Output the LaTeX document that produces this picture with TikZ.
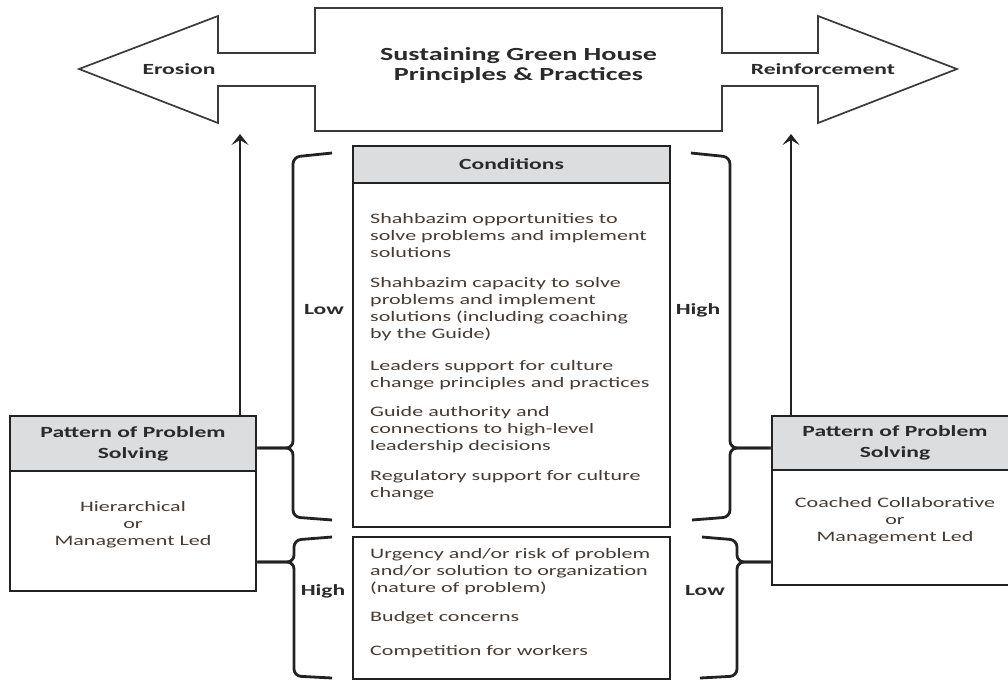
\documentclass[tikz,border=0pt]{standalone}
\usepackage{fontspec}
\setmainfont{Carlito}[FakeStretch=1.52]
\usetikzlibrary{arrows.meta,calc}
\definecolor{linec}{HTML}{222222}
\definecolor{shapec}{HTML}{3A3A3A}
\definecolor{bodyc}{HTML}{443C36}
\definecolor{headc}{HTML}{2A2A2A}
\definecolor{hdrfill}{HTML}{DCDDDF}
\begin{document}
\begin{tikzpicture}[x=1pt,y=-1pt,
  box/.style={draw=linec,line width=2.8pt,fill=white,inner sep=0pt},
  hdr/.style={draw=linec,line width=2.8pt,fill=hdrfill,inner sep=0pt,
    font=\fontsize{15.5}{21}\selectfont\bfseries,text=headc,align=center},
  bigarrow/.style={draw=shapec,line width=1.7pt,fill=white,line join=miter},
  boldt/.style={font=\fontsize{15.5}{20}\selectfont\bfseries,text=headc,inner sep=0pt},
  titlet/.style={font=\fontsize{18.5}{20}\selectfont\bfseries,text=headc,inner sep=0pt,align=center},
  bodyt/.style={font=\fontsize{14.5}{17}\selectfont,text=bodyc,inner sep=0pt},
  brc/.style={draw=linec,line width=2.8pt,rounded corners=7pt},
  upar/.style={draw=linec,line width=2.8pt,-{Stealth[length=11pt,width=17pt,inset=5pt]}}
]
\useasboundingbox (0,0) rectangle (1008,681);

% top double arrow
\draw[bigarrow] (79,69) -- (218,16) -- (218,53) -- (315,53) -- (315,8) -- (722,8)
  -- (722,53) -- (818,53) -- (818,16) -- (957,69) -- (818,123) -- (818,86)
  -- (722,86) -- (722,131) -- (315,131) -- (315,86) -- (218,86) -- (218,123) -- cycle;
\node[titlet] (title) at (518.5,65) {Sustaining Green House\\Principles \& Practices};
\node[boldt] (eros) at (179,69) {Erosion};
\node[boldt] (reinf) at (823,69) {Reinforcement};

% conditions box
\node[box,minimum width=317,minimum height=381] (cond) at (511.5,336.5) {};
\node[hdr,minimum width=317,minimum height=37,anchor=north] (condh) at (cond.north) {Conditions};
% (base anchor = baseline of the last line)
\node[bodyt,anchor=base west,align=left] (c1) at (370,257) {Shahbazim opportunities to\\solve problems and implement\\solutions};
\node[bodyt,anchor=base west,align=left] (c2) at (370,338) {Shahbazim capacity to solve\\problems and implement\\solutions (including coaching\\by the Guide)};
\node[bodyt,anchor=base west,align=left] (c3) at (370,387) {Leaders support for culture\\change principles and practices};
\node[bodyt,anchor=base west,align=left] (c4) at (370,450) {Guide authority and\\connections to high-level\\leadership decisions};
\node[bodyt,anchor=base west,align=left] (c5) at (370,497) {Regulatory support for culture\\change};

% lower box
\node[box,minimum width=317,minimum height=142] (low) at (511.5,608) {};
\node[bodyt,anchor=base west,align=left] (l1) at (370,592) {Urgency and/or risk of problem\\and/or solution to organization\\(nature of problem)};
\node[bodyt,anchor=base west,align=left] (l2) at (370,621) {Budget concerns};
\node[bodyt,anchor=base west,align=left] (l3) at (370,655) {Competition for workers};

% pattern boxes
\node[box,minimum width=246,minimum height=175] (lpat) at (133,503.5) {};
\node[hdr,minimum width=246,minimum height=55,anchor=north] (lpath) at (lpat.north) {Pattern of Problem\\Solving};
\node[bodyt,align=center] (lpatb) at (133,525) {Hierarchical\\or\\Management Led};

\node[box,minimum width=246,minimum height=169] (rpat) at (895,500.5) {};
\node[hdr,minimum width=246,minimum height=54,anchor=north] (rpath) at (rpat.north) {Pattern of Problem\\Solving};
\node[bodyt,align=center] (rpatb) at (895,521) {Coached Collaborative\\or\\Management Led};

% up arrows
\coordinate (ltop) at (240,134);
\coordinate (rtop) at (791,134);
\draw[upar] (lpat.north -| ltop) -- (ltop);
\draw[upar] (rpat.north -| rtop) -- (rtop);

% braces, left side
\draw[brc] (332,153) -- (293,157) -- (293,448) -- (lpat.east |- 0,448);
\draw[brc] (lpat.east |- 0,448) -- (293,448) -- (293,517) -- (332,520);
\draw[brc] (332,537) -- (294,540) -- (294,562) -- (lpat.east |- 0,562);
\draw[brc] (lpat.east |- 0,562) -- (294,562) -- (294,676) -- (332,678);
% braces, right side
\draw[brc] (691,153) -- (730,157) -- (730,448) -- (rpat.west |- 0,448);
\draw[brc] (rpat.west |- 0,448) -- (730,448) -- (730,517) -- (692,520);
\draw[brc] (702,537) -- (737,540) -- (737,562) -- (rpat.west |- 0,562);
\draw[brc] (rpat.west |- 0,562) -- (737,562) -- (737,676) -- (700,678);

% brace labels
\node[boldt] (lowa) at (324,310) {Low};
\node[boldt] (higha) at (698,310) {High};
\node[boldt] (highb) at (323,591) {High};
\node[boldt] (lowb) at (705,591) {Low};
\end{tikzpicture}
\end{document}
